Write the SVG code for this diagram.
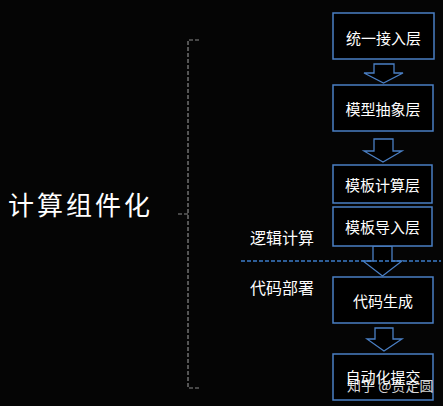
<svg xmlns="http://www.w3.org/2000/svg" width="443" height="406" viewBox="0 0 443 406">
<style>
.box{fill:#000;stroke:#4a7fc4;stroke-width:1.5}
.arr{fill:#000;stroke:#4a7fc4;stroke-width:1.3}
.t{font-family:"Noto Sans CJK SC","Noto Sans",sans-serif;fill:#fff;font-size:15px;text-anchor:middle;dominant-baseline:central}
.lbl{font-family:"Noto Sans CJK SC","Noto Sans",sans-serif;fill:#fff;font-size:16px;dominant-baseline:central}
.brace{fill:none;stroke:#8a8a8a;stroke-width:1.2;stroke-dasharray:4 2}
</style>
<rect width="443" height="406" fill="#050505"/>
<g id="title"><text class="lbl" x="8" y="203" style="font-size:26px;letter-spacing:3px">计算组件化</text></g>
<g id="brace"><path class="brace" d="M199 40 H188 V388 H199 M188 214 H177"/></g>
<g id="connectors">
<path class="arr" d="M374 64 H394 V73 H403 L383.5 83 L364 73 H374 Z"/>
<path class="arr" d="M374 139 H393 V151 H402 L383 162 L364 151 H374 Z"/>
<path class="arr" d="M373 246 H392 V261 H402 L382.5 276 L363 261 H373 Z"/>
<path class="arr" d="M375 328 H393 V339 H402 L384 351 L367 339 H375 Z"/>
<line x1="241" y1="261" x2="441" y2="261" stroke="#3d7cc9" stroke-width="1.5" stroke-dasharray="4 2"/>
</g>
<g id="n1"><rect class="box" x="333" y="13" width="101" height="46"/><text class="t" x="383.5" y="37">统一接入层</text></g>
<g id="n2"><rect class="box" x="333" y="85" width="100" height="46"/><text class="t" x="383" y="108">模型抽象层</text></g>
<g id="n3"><rect class="box" x="333" y="165" width="99" height="38"/><text class="t" x="382.5" y="184">模板计算层</text></g>
<g id="n4"><rect class="box" x="333" y="207" width="99" height="39"/><text class="t" x="382.5" y="226">模板导入层</text></g>
<g id="n5"><rect class="box" x="333" y="277" width="100" height="46"/><text class="t" x="383" y="300">代码生成</text></g>
<g id="n6"><rect class="box" x="333" y="354" width="100" height="46"/><text class="t" x="383" y="376">自动化提交</text></g>
<g id="labels">
<text class="lbl" x="250" y="237">逻辑计算</text>
<text class="lbl" x="250" y="287">代码部署</text>
</g>
<g id="watermark"><text x="347" y="385" style="font-family:'Noto Sans CJK SC','Noto Sans',sans-serif;font-size:14px;fill:#fff;fill-opacity:0.85;dominant-baseline:central">知乎 @贾定圆</text></g>
</svg>
